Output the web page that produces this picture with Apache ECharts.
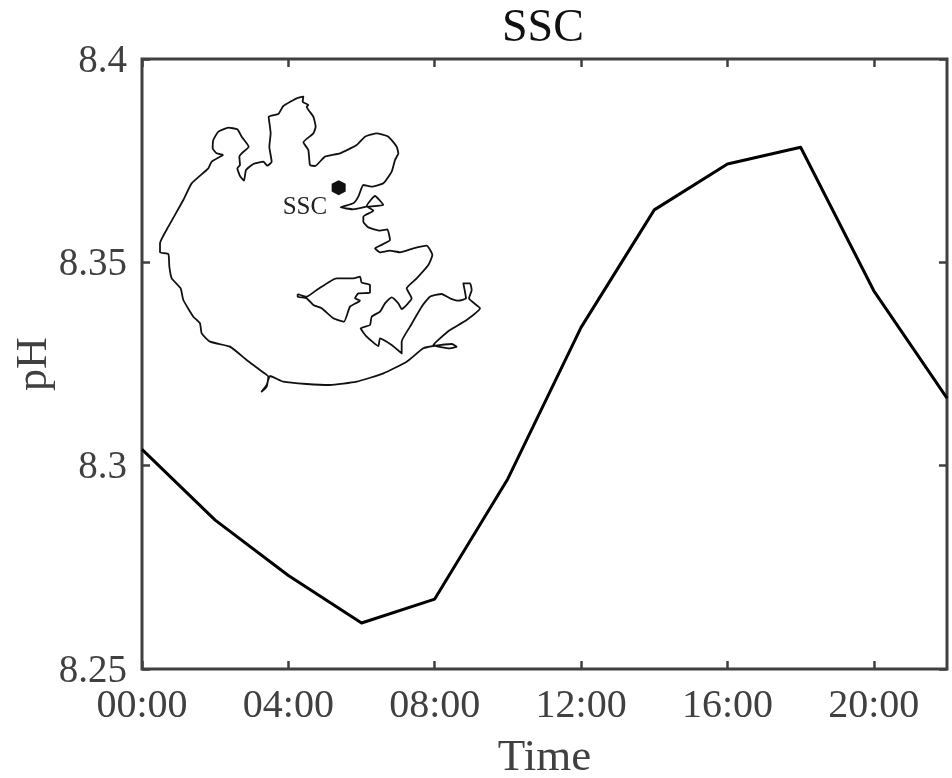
<!DOCTYPE html>
<html><head><meta charset="utf-8">
<style>html,body{margin:0;padding:0;background:#fff}#c{width:952px;height:778px}</style>
<script src="https://cdn.jsdelivr.net/npm/echarts@6/dist/echarts.min.js"></script>
</head><body><div id="c"></div>
<script>
const timeLabels = ['00:00','02:00','04:00','06:00','08:00','10:00','12:00','14:00','16:00','18:00','20:00','22:00'];
const phValues = [8.304,8.2866,8.273,8.2613,8.2672,8.2968,8.334,8.3629,8.3742,8.3783,8.343,8.3166];
const yTicks = {8.25:'8.25',8.3:'8.3',8.35:'8.35',8.4:'8.4'};
const coast = [[220,195],[200,190],[188,175],[190,150],[205,125],[235,113],[262,118],[275,140],[296,170],[275,190],[268,200],[270,225],[262,235],[270,258],[282,272],[288,240],[310,222],[340,215],[352,227],[365,215],[358,170],[362,130],[356,80],[385,72],[400,48],[440,25],[460,20],[458,35],[475,45],[470,50],[490,80],[497,110],[490,130],[460,157],[475,180],[480,225],[495,228],[525,200],[570,190],[620,165],[645,140],[680,130],[715,140],[740,170],[745,190],[735,210],[725,245],[700,280],[665,290],[640,285],[625,320],[610,340],[572,352],[610,358],[650,350],[700,345],[675,318],[650,348],[670,362],[640,380],[640,395],[655,412],[690,422],[712,418],[720,450],[700,462],[675,475],[690,487],[720,482],[750,487],[790,475],[830,467],[847,495],[835,525],[800,565],[770,595],[785,625],[755,657],[745,640],[725,622],[705,640],[690,665],[665,680],[660,705],[632,715],[650,740],[685,768],[690,745],[725,765],[755,790],[755,755],[780,710],[815,650],[840,620],[875,612],[900,625],[925,632],[948,625],[940,580],[960,580],[965,600],[957,625],[990,655],[950,690],[900,720],[870,745],[850,765],[900,775],[920,770],[905,762],[850,768],[820,775],[770,815],[700,850],[620,875],[540,885],[470,882],[400,875],[360,858],[350,885],[335,905],[350,890],[355,860],[330,840],[290,810],[240,770],[180,755],[155,730],[150,700],[130,680],[100,630],[92,595],[65,565],[58,530],[55,492],[30,487],[30,460],[55,410],[100,330],[125,280],[175,235],[185,215],[220,195]];
const island = [[443,612],[470,620],[500,600],[560,565],[610,565],[630,560],[635,578],[660,585],[660,608],[625,610],[615,625],[630,632],[600,650],[582,695],[550,685],[515,655],[490,645],[470,625],[443,620],[443,612]];
const station = [[566,293]];
const stationName = 'SSC';

const serif = '"Liberation Serif","Times New Roman",serif';
const ink = '#404040';
const chart = echarts.init(document.getElementById('c'), null, {renderer:'canvas'});
const mapLine = d => ({type:'line',xAxisIndex:1,yAxisIndex:1,data:d,symbol:'none',silent:true,smooth:0.15,
  lineStyle:{color:'#111',width:1.8,join:'round'},z:3});
const tick = {show:true,inside:true,length:8,lineStyle:{color:ink,width:2.5}};
chart.setOption({
  animation:false,
  backgroundColor:'#fff',
  title:{text:'SSC',left:497,top:1,
    textStyle:{fontFamily:serif,fontSize:46,fontWeight:'normal',color:'#111'}},
  grid:[
    {left:142,top:59,width:805,height:610,show:true,borderColor:ink,borderWidth:3,backgroundColor:'#fff',outerBoundsMode:'none'},
    {left:150,top:90,width:340,height:310,show:false,outerBoundsMode:'none'}
  ],
  xAxis:[
    {type:'category',gridIndex:0,data:timeLabels,boundaryGap:false,name:'Time',nameLocation:'middle',nameGap:67,
     nameMoveOverlap:false,
     nameTextStyle:{fontFamily:serif,fontSize:45,color:ink},
     axisLine:{show:false},
     axisTick:Object.assign({interval:1,alignWithLabel:true},tick),
     axisLabel:{interval:1,margin:17,fontFamily:serif,fontSize:40,color:ink},
     splitLine:{show:false}},
    {type:'value',gridIndex:1,min:0,max:1020,show:false},
    {type:'category',gridIndex:0,position:'top',data:timeLabels,boundaryGap:false,
     axisLine:{show:false},
     axisTick:Object.assign({interval:1,alignWithLabel:true},tick),
     axisLabel:{show:false},splitLine:{show:false}}
  ],
  yAxis:[
    {type:'value',gridIndex:0,min:8.25,max:8.4,interval:0.05,name:'pH',nameLocation:'middle',nameGap:86,
     nameMoveOverlap:false,
     nameTextStyle:{fontFamily:serif,fontSize:44,color:ink},
     axisLine:{show:false},
     axisTick:tick,
     axisLabel:{margin:15,fontFamily:serif,fontSize:39,color:ink,
       formatter:v=>'{t|'+yTicks[+v.toFixed(2)]+'}',
       rich:{t:{fontFamily:serif,fontSize:39,color:ink,padding:[5,0,0,0]}}},
     splitLine:{show:false}},
    {type:'value',gridIndex:1,min:0,max:930,inverse:true,show:false},
    {type:'value',gridIndex:0,position:'right',min:8.25,max:8.4,interval:0.05,
     axisLine:{show:false},axisTick:tick,axisLabel:{show:false},splitLine:{show:false}}
  ],
  series:[
    {type:'line',data:phValues,symbol:'none',silent:true,lineStyle:{color:'#000',width:3,join:'round'},z:5},
    mapLine(coast),
    mapLine(island),
    {type:'scatter',xAxisIndex:1,yAxisIndex:1,data:station,silent:true,z:6,
     symbol:'path://M25 0L50 14L50 43L25 57L0 43L0 14Z',symbolSize:[14,15],
     itemStyle:{color:'#111',opacity:1},
     label:{show:true,position:[-49,15],formatter:stationName,fontFamily:serif,fontSize:25,color:'#222'}}
  ]
});
</script></body></html>
